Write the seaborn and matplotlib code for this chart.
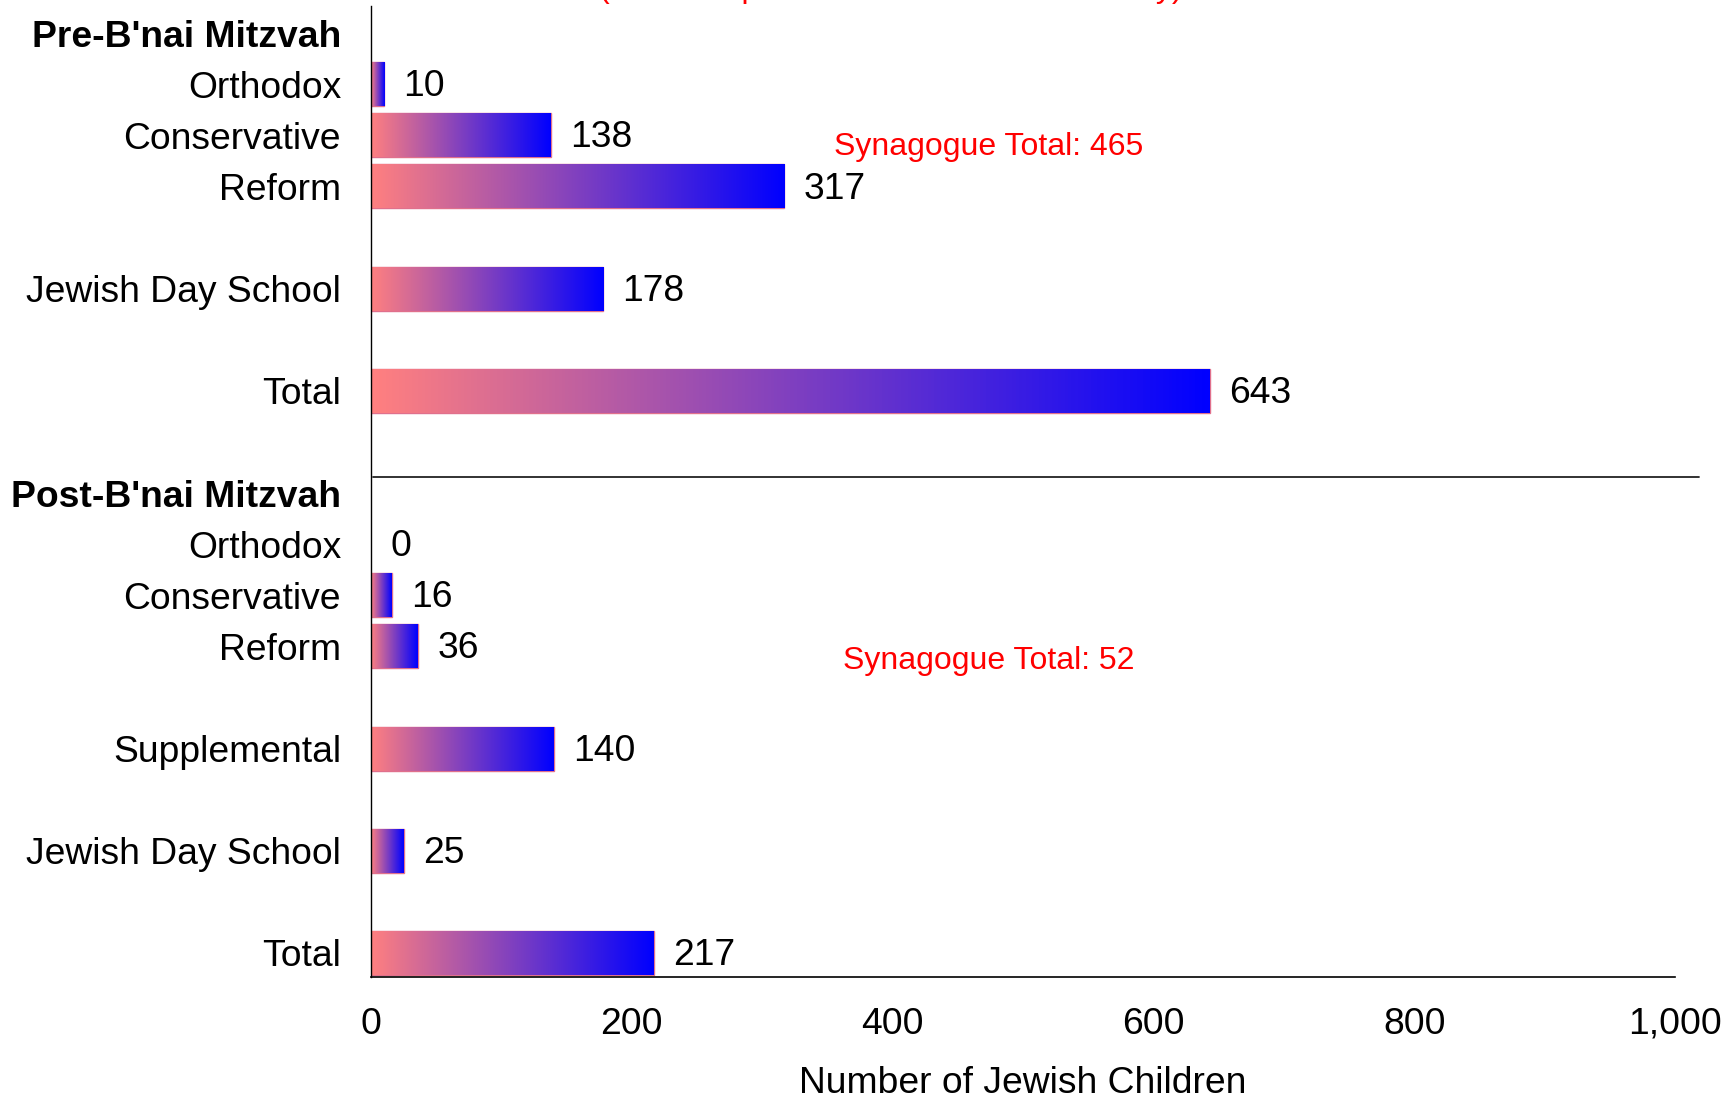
import numpy as np
import pandas as pd
import seaborn as sns
import matplotlib.pyplot as plt
from matplotlib.colors import LinearSegmentedColormap
from matplotlib.ticker import FuncFormatter

# ---- Data
# rows of the chart from top to bottom, gaps are empty rows
slot_keys = ['pre_head', 'pre_orth', 'pre_cons', 'pre_ref', 'gap1', 'pre_jds', 'gap2', 'pre_total', 'gap3',
             'post_head', 'post_orth', 'post_cons', 'post_ref', 'gap4', 'post_supp', 'gap5', 'post_jds', 'gap6',
             'post_total']
slot_labels = ["Pre-B'nai Mitzvah", 'Orthodox', 'Conservative', 'Reform', '', 'Jewish Day School', '', 'Total', '',
               "Post-B'nai Mitzvah", 'Orthodox', 'Conservative', 'Reform', '', 'Supplemental', '',
               'Jewish Day School', '', 'Total']
header_keys = ['pre_head', 'post_head']

bar_keys = ['pre_orth', 'pre_cons', 'pre_ref', 'pre_jds', 'pre_total',
            'post_orth', 'post_cons', 'post_ref', 'post_supp', 'post_jds', 'post_total']
children = [10, 138, 317, 178, 643, 0, 16, 36, 140, 25, 217]

synagogue_notes = ['Synagogue Total: 465', 'Synagogue Total: 52']
note_rows = [2.23, 12.29]
top_note = '(Those in part-time Hebrew schools only)'

df = pd.DataFrame({'key': bar_keys, 'children': children})

# ---- Plot
sns.set_theme(style='white')
plt.rcParams['font.family'] = ['Liberation Sans', 'DejaVu Sans']

fs = 26.8
fig = plt.figure(figsize=(17.36, 10.99), dpi=100)
ax = fig.add_axes([0.2137, 0.111, 0.7512, 0.8835])

sns.barplot(data=df, x='children', y='key', order=slot_keys, width=0.86, ax=ax)

# pink -> blue gradient inside every bar
cmap = LinearSegmentedColormap.from_list('pinkblue', ['#FF8080', '#0000FF'])
grad = np.linspace(0, 1, 256).reshape(1, -1)
for p in list(ax.patches):
    p.set_facecolor('none')
    p.set_edgecolor('#E0708C')
    p.set_linewidth(1.0)
    x0, y0, x1, y1 = p.get_bbox().extents
    if x1 - x0 <= 0:
        p.set_visible(False)
        continue
    im = ax.imshow(grad, extent=[x0, x1, y1, y0], aspect='auto', cmap=cmap,
                   interpolation='bicubic', zorder=1.5)
    im.set_clip_path(p)

for key, v in zip(bar_keys, children):
    ax.annotate(str(v), xy=(v, slot_keys.index(key)), xytext=(14, 1), textcoords='offset points',
                va='center_baseline', ha='left', fontsize=fs, color='black')

for txt, row in zip(synagogue_notes, note_rows):
    ax.text(474, row, txt, color='red', fontsize=23, ha='center', va='center')

# heading partly above the top edge, as in the source
fig.text(0.513, 1.003, top_note, color='red', fontsize=23, ha='center', va='baseline')

# divider between the two groups
ax.plot([1.7, 1018.7], [8.68, 8.68], color='#222222', lw=1.3, clip_on=False)

ax.set_xlim(0, 1000)
ax.set_ylim(18.47, -0.53)
ax.set_xticks(range(0, 1001, 200))
ax.xaxis.set_major_formatter(FuncFormatter(lambda v, _: f'{v:,.0f}'))
ax.set_yticks(range(len(slot_keys)))
ax.set_yticklabels(slot_labels)
for lab, key in zip(ax.get_yticklabels(), slot_keys):
    if key in header_keys:
        lab.set_fontweight('bold')

ax.tick_params(axis='y', length=0, pad=21.5, labelsize=fs, labelcolor='black')
ax.tick_params(axis='x', length=0, pad=21.5, labelsize=fs, labelcolor='black')
ax.set_ylabel('')
ax.set_xlabel('Number of Jewish Children', fontsize=fs, labelpad=17.5, color='black')

sns.despine(ax=ax)
ax.spines['left'].set_color('black')
ax.spines['left'].set_linewidth(1.0)
ax.spines['bottom'].set_color('black')
ax.spines['bottom'].set_linewidth(1.2)
ax.grid(False)

fig.savefig('out.png', dpi=100)
